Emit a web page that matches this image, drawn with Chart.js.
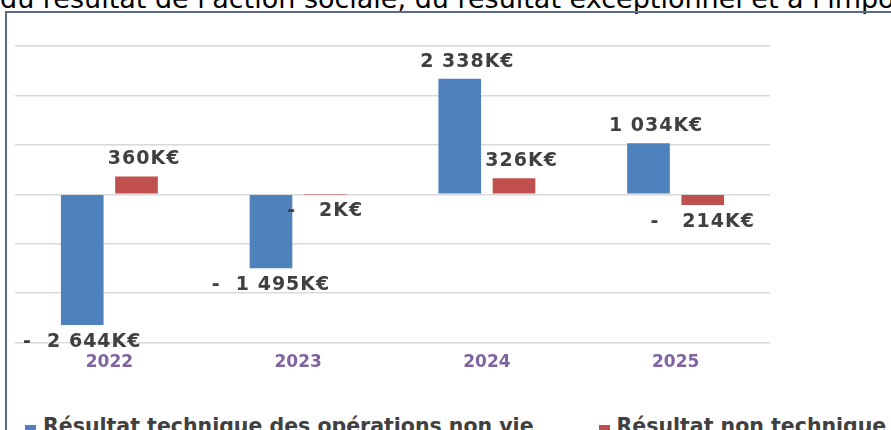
<!DOCTYPE html>
<html lang="fr">
<head>
<meta charset="utf-8">
<script src="https://cdn.jsdelivr.net/npm/chart.js@4"></script>
<style>
  html, body {
    margin: 0;
    padding: 0;
    width: 891px;
    height: 430px;
    overflow: hidden;
    background: #fff;
  }
  .intro {
    position: absolute;
    left: 0;
    top: -15px;
    font-family: "DejaVu Sans", Verdana, sans-serif;
    font-size: 27px;
    line-height: 27px;
    color: #000;
    white-space: nowrap;
  }
  .frame {
    position: absolute;
    left: 5px;
    top: 11px;
    width: 1000px;
    height: 1000px;
    border-left: 2px solid #5b6b86;
    border-top: 2px solid #5b6b86;
  }
  .chart-box {
    position: absolute;
    left: 0;
    top: 0;
    width: 891px;
    height: 383px;
  }
  .legend {
    position: absolute;
    left: 25px;
    top: 416px;
    display: flex;
    white-space: nowrap;
    font-family: "DejaVu Sans", sans-serif;
    font-weight: bold;
    font-size: 20.5px;
    line-height: 20px;
    color: #404040;
  }
  .legend-item {
    display: flex;
    align-items: center;
    margin-right: 65px;
  }
  .legend-box {
    width: 11px;
    height: 11px;
    margin-right: 7px;
    margin-top: 9px;
  }
</style>
</head>
<body>
<div class="intro">du résultat de l'action sociale, du résultat exceptionnel et à l'impôt</div>
<div class="frame"></div>
<div class="chart-box"><canvas id="resultChart"></canvas></div>
<div class="legend" id="legend"></div>

<script>
// Chart data (K€)
const years = ['2022', '2023', '2024', '2025'];
const technicalResult = [-2644, -1495, 2338, 1034];
const nonTechnicalResult = [360, -2, 326, -214];
const seriesNames = ['Résultat technique des opérations non vie', 'Résultat non technique'];
const seriesColors = ['#4f81bd', '#c0504d'];

// Format a value like "2 338K€"
function formatKEuro(value) {
  const abs = Math.abs(value);
  const text = String(abs).replace(/\B(?=(\d{3})+(?!\d))/g, ' ') + 'K€';
  if (value < 0) {
    return '-' + ' '.repeat(abs >= 1000 ? 2 : 3) + text;
  }
  return '  ' + text;
}

// Draw value labels next to the end of each bar
const valueLabels = {
  id: 'valueLabels',
  afterDatasetsDraw(chart) {
    const ctx = chart.ctx;
    ctx.save();
    ctx.font = 'bold 19px "DejaVu Sans", sans-serif';
    ctx.letterSpacing = '1px';
    ctx.fillStyle = '#404040';
    ctx.textAlign = 'center';
    ctx.textBaseline = 'middle';

    chart.data.datasets.forEach((dataset, i) => {
      const meta = chart.getDatasetMeta(i);
      meta.data.forEach((bar, j) => {
        const value = dataset.data[j];
        const y = value >= 0 ? bar.y - 17 : bar.y + 17;
        ctx.fillText(formatKEuro(value), bar.x, y);
      });
    });
    ctx.restore();
  }
};

// Build the legend below the chart from the datasets
function buildLegend(chart) {
  const container = document.getElementById('legend');
  container.innerHTML = '';

  chart.data.datasets.forEach(dataset => {
    const item = document.createElement('div');
    item.className = 'legend-item';

    const box = document.createElement('span');
    box.className = 'legend-box';
    box.style.background = dataset.backgroundColor;

    const label = document.createElement('span');
    label.textContent = dataset.label;

    item.appendChild(box);
    item.appendChild(label);
    container.appendChild(item);
  });
}

const ctx = document.getElementById('resultChart').getContext('2d');

const resultChart = new Chart(ctx, {
  type: 'bar',
  data: {
    labels: years,
    datasets: [
      {
        label: seriesNames[0],
        data: technicalResult,
        backgroundColor: seriesColors[0],
        borderWidth: 0
      },
      {
        label: seriesNames[1],
        data: nonTechnicalResult,
        backgroundColor: seriesColors[1],
        borderWidth: 0
      }
    ]
  },
  options: {
    responsive: true,
    maintainAspectRatio: false,
    animation: false,
    categoryPercentage: 0.575,
    barPercentage: 0.786,
    layout: {
      padding: {
        top: 46,
        left: 15,
        right: 121,
        bottom: 0
      }
    },
    scales: {
      x: {
        grid: {
          display: false,
          drawTicks: false
        },
        border: {
          display: false
        },
        ticks: {
          padding: 10,
          color: '#8064a2',
          font: {
            family: '"DejaVu Sans", sans-serif',
            weight: 'bold',
            size: 17
          }
        }
      },
      y: {
        min: -3000,
        max: 3000,
        ticks: {
          display: false,
          stepSize: 1000
        },
        grid: {
          color: '#d9d9d9',
          lineWidth: 1.5,
          drawTicks: false
        },
        border: {
          display: false
        }
      }
    },
    plugins: {
      legend: {
        display: false
      },
      tooltip: {
        enabled: false
      }
    }
  },
  plugins: [valueLabels]
});

buildLegend(resultChart);
</script>
</body>
</html>
